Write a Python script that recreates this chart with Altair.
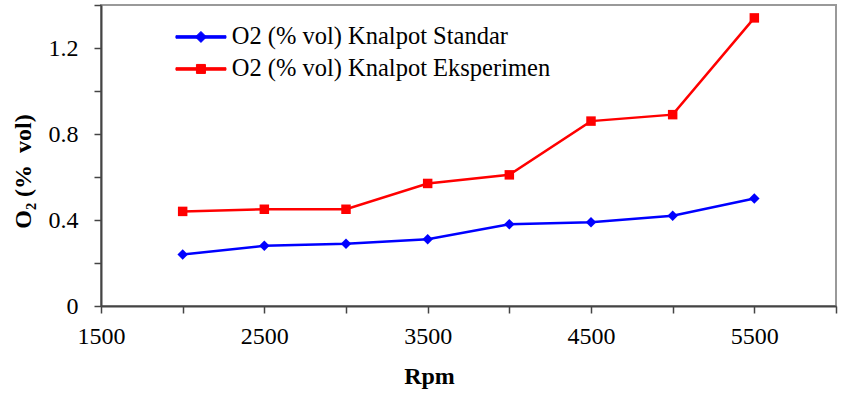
import altair as alt
import pandas as pd

rpm = [2000, 2500, 3000, 3500, 4000, 4500, 5000, 5500]
standar = [0.24, 0.28, 0.29, 0.31, 0.38, 0.39, 0.42, 0.50]
eksperimen = [0.44, 0.45, 0.45, 0.57, 0.61, 0.86, 0.89, 1.34]
s1 = "O2 (% vol) Knalpot Standar"
s2 = "O2 (% vol) Knalpot Eksperimen"
series = [s1, s2]
colors = ["#0000FF", "#FF0000"]
x_ticks = [1500, 2000, 2500, 3000, 3500, 4000, 4500, 5000, 5500, 6000]
y_ticks = [0, 0.2, 0.4, 0.6, 0.8, 1.0, 1.2, 1.4]

df = pd.DataFrame({
    "rpm": rpm * 2,
    "o2": standar + eksperimen,
    "series": [s1] * len(rpm) + [s2] * len(rpm),
})

FONT = "Liberation Serif, Times New Roman, serif"

diamond_path = "M-5,-0.25H5V0.25H-5ZM0,-1.1L1.1,0L0,1.1L-1.1,0Z"
square_path = "M-5,-0.25H5V0.25H-5ZM-0.9,-0.9H0.9V0.9H-0.9Z"

x = alt.X("rpm:Q", scale=alt.Scale(domain=[1500, 6000], nice=False, zero=False),
          axis=alt.Axis(title="Rpm", values=x_ticks,
                        labelExpr="((datum.value - 1500) % 1000 == 0 && datum.value < 6000) ? (datum.value + '') : ''",
                        tickSize=7, labelPadding=11, grid=False,
                        titleX=328, titleY=77, titleBaseline="alphabetic", titleAlign="center"))
y = alt.Y("o2:Q", scale=alt.Scale(domain=[0, 1.4], nice=False),
          axis=alt.Axis(title="O\u2082 (%\u00a0 vol)", values=y_ticks,
                        labelExpr="(round(datum.value * 10) % 4 == 0 && datum.value < 1.3) ? (datum.value + '') : ''",
                        tickSize=7, labelPadding=16, grid=False,
                        titleX=-78, titleY=166, titleBaseline="middle", titleAlign="center", titleAngle=270))

color = alt.Color("series:N", sort=series,
                  scale=alt.Scale(domain=series, range=colors),
                  legend=alt.Legend(
                      title=None, orient="none", legendX=87.7, legendY=19.7,
                      labelFont=FONT, labelFontSize=24.5, labelColor="#000000",
                      labelOffset=18.5, rowPadding=7, padding=0, symbolSize=100,
                      labelLimit=500,
                      symbolType={"expr": "datum.value === '" + s1 + "' ? '" + diamond_path + "' : '" + square_path + "'"},
                      symbolFillColor={"expr": "scale('color', datum.value)"},
                      symbolStrokeColor={"expr": "scale('color', datum.value)"},
                      symbolStrokeWidth=1, symbolOpacity=1,
                  ))

lines = alt.Chart(df).mark_line(strokeWidth=2.5).encode(x=x, y=y, color=color)
pts1 = alt.Chart(df).transform_filter(alt.datum.series == s1).mark_point(
    filled=True, opacity=1, size=110, shape="diamond").encode(x=x, y=y, color=color)
pts2 = alt.Chart(df).transform_filter(alt.datum.series == s2).mark_point(
    filled=True, opacity=1, size=90, shape="square").encode(x=x, y=y, color=color)

chart = alt.layer(lines, pts1, pts2).properties(
    width=735, height=301,
    autosize=alt.AutoSizeParams(type="none"),
    padding={"left": 101, "top": 5, "right": 5, "bottom": 87},
    background="white",
).configure_view(
    stroke="#999999", strokeWidth=2,
).configure_axis(
    labelFont=FONT, labelFontSize=24, labelColor="#000000",
    titleFont=FONT, titleFontSize=24, titleFontWeight="bold", titleColor="#000000",
    domainColor="#444444", domainWidth=2, tickColor="#444444", tickWidth=1.5,
    labelFlush=False, labelOverlap=False,
).configure_legend(
    labelFont=FONT,
)

chart.save("out.html", embed_options={"renderer": "svg", "actions": False})
